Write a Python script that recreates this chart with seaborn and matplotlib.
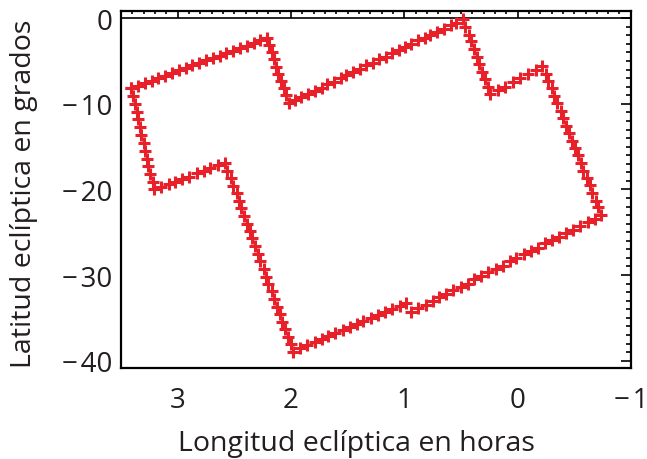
import numpy as np
import pandas as pd
import matplotlib
matplotlib.use('Agg')
import matplotlib.pyplot as plt
import seaborn as sns
from matplotlib.ticker import MultipleLocator

# Contorno del campo, tramo a tramo (longitud en horas, latitud en grados)
lon_tramo1 = [3.41, 3.35, 3.29, 3.23, 3.17, 3.11, 3.05, 2.99, 2.93, 2.87, 2.81,
              2.75, 2.69, 2.63, 2.57, 2.51, 2.45, 2.39, 2.33, 2.27, 2.21]
lat_tramo1 = [-8.2, -7.9, -7.6, -7.3, -7.0, -6.7, -6.4, -6.1, -5.8, -5.5, -5.2,
              -4.9, -4.7, -4.4, -4.1, -3.8, -3.5, -3.2, -2.9, -2.6, -2.3]

lon_tramo2 = [2.19, 2.17, 2.15, 2.13, 2.11, 2.09, 2.06, 2.04, 2.02]
lat_tramo2 = [-3.1, -4.0, -4.8, -5.7, -6.5, -7.3, -8.2, -9.0, -9.9]

lon_tramo3 = [1.96, 1.91, 1.85, 1.79, 1.73, 1.68, 1.62, 1.56, 1.51, 1.45, 1.39,
              1.34, 1.28, 1.22, 1.16, 1.11, 1.05, 0.99, 0.94, 0.88, 0.82, 0.77,
              0.71, 0.65, 0.59, 0.54, 0.48]
lat_tramo3 = [-9.5, -9.2, -8.8, -8.5, -8.1, -7.7, -7.4, -7.0, -6.6, -6.3, -5.9,
              -5.5, -5.2, -4.8, -4.5, -4.1, -3.7, -3.4, -3.0, -2.6, -2.3, -1.9,
              -1.6, -1.2, -0.8, -0.5, -0.1]

lon_tramo4 = [0.46, 0.43, 0.41, 0.38, 0.36, 0.34, 0.31, 0.29, 0.26, 0.24]
lat_tramo4 = [-1.0, -1.9, -2.7, -3.6, -4.5, -5.4, -6.3, -7.1, -8.0, -8.9]

lon_tramo5 = [0.17, 0.11, 0.04, -0.02, -0.09, -0.16, -0.22]
lat_tramo5 = [-8.4, -8.0, -7.5, -7.0, -6.5, -6.1, -5.6]

lon_tramo6 = [-0.25, -0.27, -0.30, -0.32, -0.35, -0.38, -0.40, -0.43, -0.45, -0.48,
              -0.51, -0.53, -0.56, -0.58, -0.61, -0.64, -0.66, -0.69, -0.71, -0.74]
lat_tramo6 = [-6.5, -7.3, -8.2, -9.1, -9.9, -10.8, -11.7, -12.6, -13.4, -14.3,
              -15.2, -16.0, -16.9, -17.8, -18.7, -19.5, -20.4, -21.3, -22.1, -23.0]

lon_tramo7 = [-0.68, -0.62, -0.55, -0.49, -0.43, -0.37, -0.30, -0.24, -0.18, -0.12,
              -0.06, 0.01, 0.07, 0.13, 0.19, 0.26, 0.32, 0.38, 0.44, 0.50, 0.57,
              0.63, 0.69, 0.75, 0.81, 0.88, 0.94]
lat_tramo7 = [-23.4, -23.8, -24.3, -24.7, -25.1, -25.5, -25.9, -26.3, -26.8, -27.2,
              -27.6, -28.0, -28.4, -28.9, -29.3, -29.7, -30.1, -30.5, -31.0, -31.4,
              -31.8, -32.2, -32.6, -33.0, -33.5, -33.9, -34.3]

lon_tramo8 = [0.98, 1.04, 1.11, 1.17, 1.23, 1.29, 1.36, 1.42, 1.48, 1.54, 1.61,
              1.67, 1.73, 1.79, 1.86, 1.92, 1.98]
lat_tramo8 = [-33.3, -33.6, -34.0, -34.3, -34.7, -35.0, -35.4, -35.7, -36.1, -36.4,
              -36.8, -37.1, -37.5, -37.8, -38.2, -38.5, -39.0]

lon_tramo9 = [2.00, 2.03, 2.05, 2.08, 2.10, 2.12, 2.15, 2.17, 2.20, 2.22, 2.24,
              2.27, 2.29, 2.32, 2.34, 2.36, 2.39, 2.41, 2.44, 2.46, 2.48, 2.51,
              2.53, 2.56, 2.58]
lat_tramo9 = [-38.1, -37.2, -36.3, -35.5, -34.6, -33.7, -32.8, -31.9, -31.0, -30.2,
              -29.3, -28.4, -27.5, -26.6, -25.7, -24.9, -24.0, -23.1, -22.2, -21.3,
              -20.4, -19.6, -18.7, -17.8, -16.9]

lon_tramo10 = [2.64, 2.71, 2.77, 2.83, 2.90, 2.96, 3.02, 3.08, 3.15, 3.21]
lat_tramo10 = [-17.2, -17.5, -17.8, -18.1, -18.5, -18.8, -19.1, -19.4, -19.7, -20.0]

lon_tramo11 = [3.22, 3.24, 3.26, 3.27, 3.29, 3.30, 3.32, 3.33, 3.35, 3.36, 3.38,
               3.39, 3.41]
lat_tramo11 = [-19.1, -18.2, -17.3, -16.4, -15.5, -14.6, -13.6, -12.7, -11.8,
               -10.9, -10.0, -9.1, -8.2]

lon = (lon_tramo1 + lon_tramo2 + lon_tramo3 + lon_tramo4 + lon_tramo5 + lon_tramo6
       + lon_tramo7 + lon_tramo8 + lon_tramo9 + lon_tramo10 + lon_tramo11)
lat = (lat_tramo1 + lat_tramo2 + lat_tramo3 + lat_tramo4 + lat_tramo5 + lat_tramo6
       + lat_tramo7 + lat_tramo8 + lat_tramo9 + lat_tramo10 + lat_tramo11)
df = pd.DataFrame({'lon': lon, 'lat': lat})

x_ticks = [3, 2, 1, 0, -1]
x_labels = ['3', '2', '1', '0', '\u2212\u200a1']
y_ticks = [0, -10, -20, -30, -40]
y_labels = ['0', '\u2212\u200a10', '\u2212\u200a20', '\u2212\u200a30', '\u2212\u200a40']

sns.set_style('white')
plt.rcParams['font.family'] = ['Open Sans', 'DejaVu Sans']
texto = '#231f20'

fig = plt.figure(figsize=(6.47, 4.60), dpi=100)
ax = fig.add_axes([0.187, 0.198, 0.788, 0.776])

sns.scatterplot(data=df, x='lon', y='lat', marker='+', s=70, linewidth=2.2,
                color='#e8202a', ax=ax, zorder=3)
ax.axhline(0, color='black', lw=1.2, zorder=2)

ax.set_xlim(3.5, -1)
ax.set_ylim(-40.85, 0.85)
ax.xaxis.set_minor_locator(MultipleLocator(0.1))
ax.yaxis.set_minor_locator(MultipleLocator(1))
ax.set_xticks(x_ticks)
ax.set_xticklabels(x_labels)
ax.set_yticks(y_ticks)
ax.set_yticklabels(y_labels)

ax.tick_params(axis='both', which='both', direction='in', top=True, right=True,
               color='black', labelcolor=texto, width=1.2, labelsize=20)
ax.tick_params(axis='x', which='major', length=5, pad=13)
ax.tick_params(axis='x', which='minor', length=2.5)
ax.tick_params(axis='y', which='major', length=7, pad=6)
ax.tick_params(axis='y', which='minor', length=3.5)
for sp in ax.spines.values():
    sp.set_visible(True)
    sp.set_color('black')
    sp.set_linewidth(1.6)

ax.set_xlabel('Longitud eclíptica en horas', fontsize=20.5, color=texto)
ax.set_ylabel('Latitud eclíptica en grados', fontsize=20.5, color=texto)
ax.xaxis.set_label_coords(0.461, -0.172)
ax.yaxis.set_label_coords(-0.163, 0.49)

fig.savefig('out.png', dpi=100)
